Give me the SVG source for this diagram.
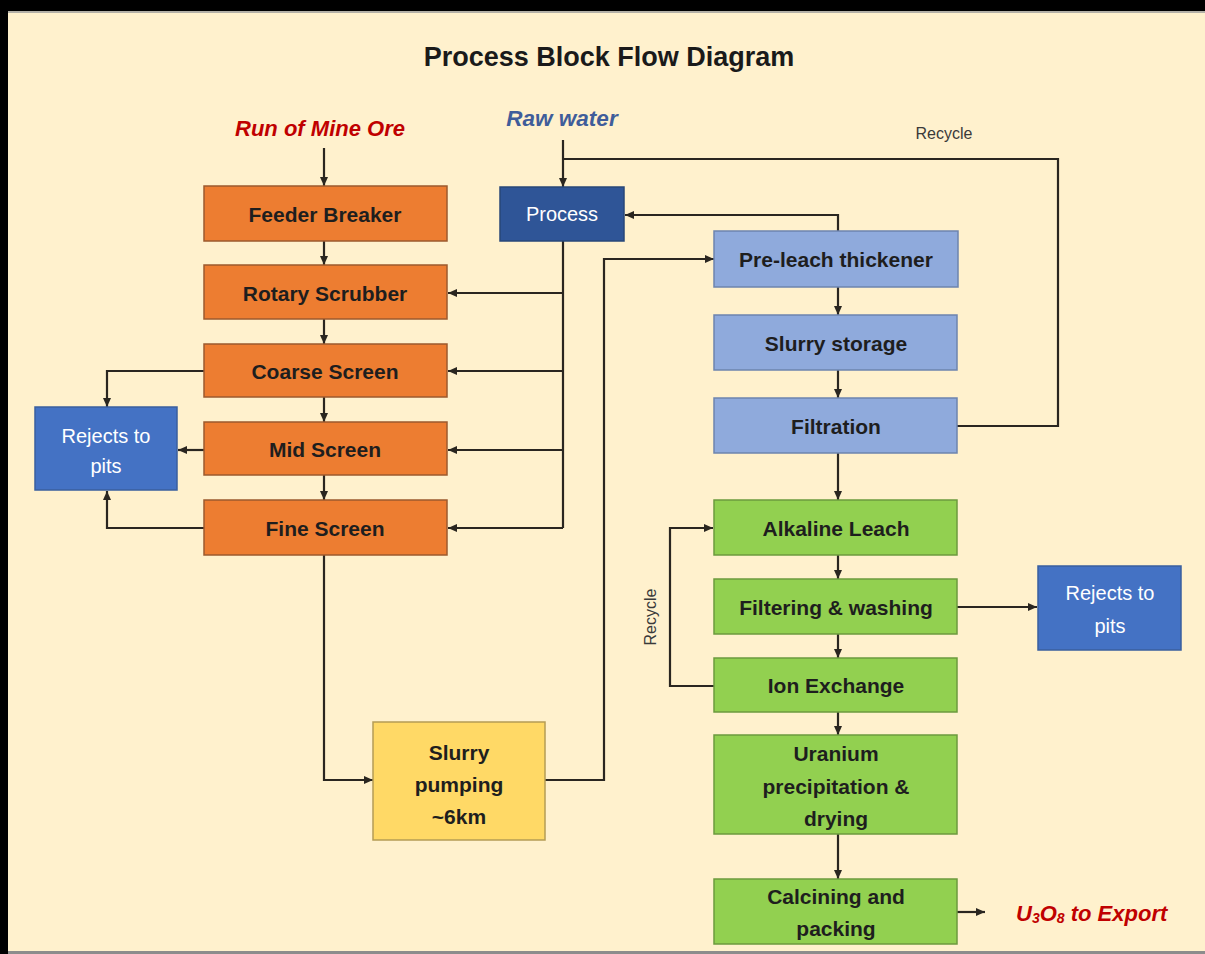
<svg xmlns="http://www.w3.org/2000/svg" width="1205" height="954" viewBox="0 0 1205 954">
<style>
.bx{stroke-width:1.5}
.or{fill:#ED7D31;stroke:#9C5A2E}
.lb{fill:#8FAADC;stroke:#6D84AE}
.gr{fill:#92D050;stroke:#6C9A3E}
.ye{fill:#FFD966;stroke:#B59C55}
.bl{fill:#4472C4;stroke:#3A5F9E}
.db{fill:#2F5597;stroke:#284778}
.t{font-family:"Liberation Sans",Arial,sans-serif;font-size:21px;font-weight:bold;fill:#1E1E1E;text-anchor:middle;dominant-baseline:central}
.tw{font-family:"Liberation Sans",Arial,sans-serif;font-size:20px;fill:#FFFFFF;text-anchor:middle;dominant-baseline:central}
.c{fill:none;stroke:#2A2620;stroke-width:2.2}
</style>
<defs>
<marker id="ah" markerUnits="userSpaceOnUse" markerWidth="12" markerHeight="12" viewBox="0 0 12 12" refX="11" refY="6" orient="auto">
<path d="M2,2 L11,6 L2,10 Z" fill="#2A2620"/>
</marker>
</defs>
<rect x="0" y="0" width="1205" height="954" fill="#000000"/>
<rect x="8" y="11" width="1197" height="941" fill="#FFF1CD"/>
<line x1="8" y1="952.5" x2="1205" y2="952.5" stroke="#8C8C8C" stroke-width="3"/>
<line x1="8" y1="12" x2="1205" y2="12" stroke="#9A9A9A" stroke-width="1.5"/>

<text x="609" y="57" font-family="'Liberation Sans',Arial,sans-serif" font-size="27" font-weight="bold" fill="#1A1A1A" text-anchor="middle" dominant-baseline="central">Process Block Flow Diagram</text>
<text x="320" y="128" font-family="'Liberation Sans',Arial,sans-serif" font-size="22" font-weight="bold" font-style="italic" fill="#C00000" text-anchor="middle" dominant-baseline="central">Run of Mine Ore</text>
<text x="562" y="118" font-family="'Liberation Sans',Arial,sans-serif" font-size="22.5" font-weight="bold" font-style="italic" fill="#3F5D9A" text-anchor="middle" dominant-baseline="central">Raw water</text>
<text x="944" y="133" font-family="'Liberation Sans',Arial,sans-serif" font-size="16" fill="#3A3A3A" text-anchor="middle" dominant-baseline="central">Recycle</text>
<text x="0" y="0" transform="translate(650,617) rotate(-90)" font-family="'Liberation Sans',Arial,sans-serif" font-size="16" fill="#3A3A3A" text-anchor="middle" dominant-baseline="central">Recycle</text>
<text x="1016" y="913" font-family="'Liberation Sans',Arial,sans-serif" font-size="22" font-weight="bold" font-style="italic" fill="#C00000" dominant-baseline="central">U<tspan font-size="14" dy="5">3</tspan><tspan dy="-5">O</tspan><tspan font-size="14" dy="5">8</tspan><tspan dy="-5"> to Export</tspan></text>

<g id="connectors">
<line class="c" x1="324" y1="148" x2="324" y2="186" marker-end="url(#ah)"/>
<line class="c" x1="324" y1="241" x2="324" y2="265" marker-end="url(#ah)"/>
<line class="c" x1="324" y1="319" x2="324" y2="344" marker-end="url(#ah)"/>
<line class="c" x1="324" y1="397" x2="324" y2="422" marker-end="url(#ah)"/>
<line class="c" x1="324" y1="475" x2="324" y2="500" marker-end="url(#ah)"/>
<line class="c" x1="563" y1="140" x2="563" y2="187" marker-end="url(#ah)"/>
<polyline class="c" points="563,159 1058,159 1058,426 957,426"/>
<polyline class="c" points="563,241 563,528"/>
<line class="c" x1="563" y1="293" x2="448" y2="293" marker-end="url(#ah)"/>
<line class="c" x1="563" y1="371" x2="448" y2="371" marker-end="url(#ah)"/>
<line class="c" x1="563" y1="450" x2="448" y2="450" marker-end="url(#ah)"/>
<polyline class="c" points="563,528 448,528" marker-end="url(#ah)"/>
<polyline class="c" points="838,231 838,215 625,215" marker-end="url(#ah)"/>
<polyline class="c" points="545,780 604,780 604,259 714,259" marker-end="url(#ah)"/>
<polyline class="c" points="324,555 324,780 373,780" marker-end="url(#ah)"/>
<polyline class="c" points="204,371 107,371 107,407" marker-end="url(#ah)"/>
<line class="c" x1="204" y1="450" x2="178" y2="450" marker-end="url(#ah)"/>
<polyline class="c" points="204,528 107,528 107,491" marker-end="url(#ah)"/>
<line class="c" x1="838" y1="287" x2="838" y2="315" marker-end="url(#ah)"/>
<line class="c" x1="838" y1="370" x2="838" y2="398" marker-end="url(#ah)"/>
<line class="c" x1="838" y1="453" x2="838" y2="500" marker-end="url(#ah)"/>
<line class="c" x1="838" y1="555" x2="838" y2="579" marker-end="url(#ah)"/>
<line class="c" x1="838" y1="634" x2="838" y2="658" marker-end="url(#ah)"/>
<line class="c" x1="838" y1="712" x2="838" y2="735" marker-end="url(#ah)"/>
<line class="c" x1="838" y1="834" x2="838" y2="879" marker-end="url(#ah)"/>
<line class="c" x1="957" y1="607" x2="1037" y2="607" marker-end="url(#ah)"/>
<polyline class="c" points="714,686 670,686 670,528 713,528" marker-end="url(#ah)"/>
<line class="c" x1="957" y1="912" x2="985" y2="912" marker-end="url(#ah)"/>
</g>

<g id="feeder-breaker"><rect class="bx or" x="204" y="186" width="243" height="55"/><text class="t" x="325" y="214">Feeder Breaker</text></g>
<g id="rotary-scrubber"><rect class="bx or" x="204" y="265" width="243" height="54"/><text class="t" x="325" y="293">Rotary Scrubber</text></g>
<g id="coarse-screen"><rect class="bx or" x="204" y="344" width="243" height="53"/><text class="t" x="325" y="371">Coarse Screen</text></g>
<g id="mid-screen"><rect class="bx or" x="204" y="422" width="243" height="53"/><text class="t" x="325" y="449">Mid Screen</text></g>
<g id="fine-screen"><rect class="bx or" x="204" y="500" width="243" height="55"/><text class="t" x="325" y="528">Fine Screen</text></g>
<g id="rejects-left"><rect class="bx bl" x="35" y="407" width="142" height="83"/><text class="tw" x="106" y="436">Rejects to</text><text class="tw" x="106" y="466">pits</text></g>
<g id="process"><rect class="bx db" x="500" y="187" width="124" height="54"/><text class="tw" x="562" y="214">Process</text></g>
<g id="slurry-pumping"><rect class="bx ye" x="373" y="722" width="172" height="118"/><text class="t" x="459" y="752">Slurry</text><text class="t" x="459" y="784">pumping</text><text class="t" x="459" y="816">~6km</text></g>
<g id="pre-leach-thickener"><rect class="bx lb" x="714" y="231" width="244" height="56"/><text class="t" x="836" y="259">Pre-leach thickener</text></g>
<g id="slurry-storage"><rect class="bx lb" x="714" y="315" width="243" height="55"/><text class="t" x="836" y="343">Slurry storage</text></g>
<g id="filtration"><rect class="bx lb" x="714" y="398" width="243" height="55"/><text class="t" x="836" y="426">Filtration</text></g>
<g id="alkaline-leach"><rect class="bx gr" x="714" y="500" width="243" height="55"/><text class="t" x="836" y="528">Alkaline Leach</text></g>
<g id="filtering-washing"><rect class="bx gr" x="714" y="579" width="243" height="55"/><text class="t" x="836" y="607">Filtering &amp; washing</text></g>
<g id="ion-exchange"><rect class="bx gr" x="714" y="658" width="243" height="54"/><text class="t" x="836" y="685">Ion Exchange</text></g>
<g id="uranium-precipitation"><rect class="bx gr" x="714" y="735" width="243" height="99"/><text class="t" x="836" y="753">Uranium</text><text class="t" x="836" y="786">precipitation &amp;</text><text class="t" x="836" y="818">drying</text></g>
<g id="calcining-packing"><rect class="bx gr" x="714" y="879" width="243" height="65"/><text class="t" x="836" y="896">Calcining and</text><text class="t" x="836" y="928">packing</text></g>
<g id="rejects-right"><rect class="bx bl" x="1038" y="566" width="143" height="84"/><text class="tw" x="1110" y="593">Rejects to</text><text class="tw" x="1110" y="626">pits</text></g>
</svg>
